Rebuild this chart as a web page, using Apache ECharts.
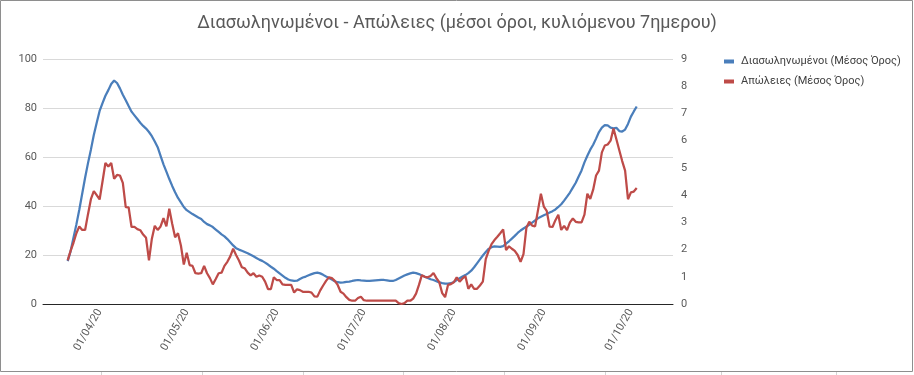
<!DOCTYPE html>
<html>
<head>
<meta charset="utf-8">
<script src="https://cdn.jsdelivr.net/npm/echarts@6/dist/echarts.min.js"></script>
<style>
html,body{margin:0;padding:0;background:#fff;}
#chart{width:914px;height:375px;}
</style>
</head>
<body>
<div id="chart"></div>
<script>
// ---- Data ----
const titleText = 'Διασωληνωμένοι - Απώλειες (μέσοι όροι, κυλιόμενου 7ημερου)';
const seriesNames = ['Διασωληνωμένοι (Μέσος Όρος)', 'Απώλειες (Μέσος Όρος)'];
const axisStart = [2020, 2, 13];   // first category (13/03/20)
const axisDays = 217;              // through 15/10/20
const dataStart = '21/03/20';      // first day with values

const intubated = [
17.5,21.5,27,32.5,38.5,45,51.5,57.5,63,69,
74,78.8,82,85,87.3,89.8,91.2,90.2,88,85.4,
83.2,80.8,78.5,77,75.5,74,72.7,71.6,70.2,68.5,
66.3,64,60.5,57,54,51,48.2,45.6,43.3,41.5,
39.6,38.3,37.5,36.7,36,35.3,34.7,33.5,32.6,32.1,
31.4,30.4,29.4,28.4,27.6,26.5,25.2,23.9,22.8,22.2,
21.7,21.2,20.7,20.1,19.5,18.8,18.1,17.6,16.9,16.1,
15.2,14.4,13.4,12.5,11.6,10.7,10,9.6,9.4,9.5,
10.2,10.8,11.2,11.7,12.2,12.6,12.8,12.5,11.9,11.2,
10.6,10,9.3,8.9,8.7,8.8,9,9.1,9.4,9.6,
9.8,9.6,9.5,9.4,9.4,9.5,9.6,9.7,9.8,9.8,
9.6,9.4,9.4,9.8,10.4,11,11.6,12.1,12.5,12.8,
12.6,12.2,11.6,11.1,10.6,10.1,9.8,9.3,8.8,8.5,
8.3,8.3,8.5,9,9.8,10.5,11.2,11.8,12.6,13.6,
15,16.6,18.2,19.8,21.2,22.5,23.2,23.5,23.4,23.3,
23.6,24.6,25.6,26.7,27.8,29,30,30.8,31.6,32.3,
33.2,34.1,35,35.6,36.2,36.7,37.3,37.9,38.6,39.6,
40.7,42.2,43.8,45.5,47.5,49.5,52,54.5,57.8,60.5,
63,65,67.5,70.2,72,73,72.9,72,71.7,71.9,
70.6,70.4,71.2,73.5,76.5,78.6,80.6
];

const deaths = [
1.6,1.95,2.25,2.6,2.85,2.72,2.72,3.3,3.85,4.15,
4.0,3.84,4.5,5.18,5.05,5.18,4.6,4.74,4.72,4.45,
3.56,3.55,2.83,2.83,2.75,2.71,2.55,2.43,1.6,2.4,
2.87,2.72,2.85,3.15,2.85,3.5,2.95,2.45,2.6,2.15,
1.45,1.88,1.43,1.4,1.13,1.12,1.13,1.4,1.13,0.95,
0.72,0.92,1.13,1.15,1.4,1.55,1.75,2.03,1.8,1.6,
1.35,1.31,1.15,1.05,1.13,1.0,1.05,1.0,0.82,0.55,
0.55,0.98,0.88,0.88,0.72,0.7,0.7,0.7,0.42,0.54,
0.51,0.45,0.45,0.45,0.42,0.28,0.27,0.5,0.68,0.85,
0.98,0.95,0.85,0.7,0.45,0.38,0.25,0.15,0.12,0.12,
0.22,0.27,0.14,0.12,0.12,0.12,0.12,0.12,0.12,0.12,
0.12,0.12,0.12,0.12,0.03,0.0,0.03,0.12,0.12,0.2,
0.38,0.7,1.06,1.0,0.98,1.03,1.14,0.95,0.8,0.4,
0.25,0.7,0.73,0.8,0.98,0.82,0.94,1.02,0.56,0.72,
0.56,0.56,0.68,0.82,1.65,1.95,2.2,2.35,2.47,2.6,
2.74,1.98,2.12,2.03,1.95,1.8,1.55,1.83,2.8,3.02,
2.88,2.85,3.45,4.05,3.58,3.42,2.84,2.83,3.08,3.28,
2.72,2.87,2.71,3.0,3.14,3.02,3.0,3.0,3.28,4.05,
3.86,4.2,4.72,4.9,5.57,5.82,5.86,6.0,6.45,6.05,
5.65,5.25,4.9,3.85,4.1,4.13,4.26
];

const leftTicks = {min: 0, max: 100, interval: 20};
const rightTicks = {min: 0, max: 9, interval: 1};

// ---- Build categories ----
function pad(n){ return (n < 10 ? '0' : '') + n; }
const categories = [];
for (let i = 0; i < axisDays; i++) {
  const d = new Date(Date.UTC(axisStart[0], axisStart[1], axisStart[2] + i));
  categories.push(pad(d.getUTCDate()) + '/' + pad(d.getUTCMonth() + 1) + '/' + String(d.getUTCFullYear()).slice(2));
}
const offset = categories.indexOf(dataStart);
function align(arr){
  const out = new Array(categories.length).fill(null);
  arr.forEach((v, i) => { out[offset + i] = v; });
  return out;
}

const font = 'Roboto, "Liberation Sans", sans-serif';
const chart = echarts.init(document.getElementById('chart'), null, {renderer: 'canvas'});

const cellLines = [101, 202, 303, 403, 504, 605, 721, 836];
const graphics = [{
  type: 'rect', silent: true, z: 100,
  shape: {x: 0.5, y: 0.5, width: 912, height: 371},
  style: {fill: 'none', stroke: '#8e8e8e', lineWidth: 1}
}];
cellLines.forEach(x => graphics.push({
  type: 'line', silent: true,
  shape: {x1: x + 0.5, y1: 372, x2: x + 0.5, y2: 375},
  style: {stroke: '#d4d4d4', lineWidth: 1}
}));

chart.setOption({
  animation: false,
  backgroundColor: '#ffffff',
  textStyle: {fontFamily: font},
  title: {
    text: titleText,
    left: 'center',
    top: 9,
    textStyle: {fontFamily: font, fontSize: 18, fontWeight: 'normal', color: '#595959'}
  },
  legend: {
    orient: 'vertical',
    left: 719,
    top: 51,
    itemWidth: 10,
    itemHeight: 4,
    itemGap: 9,
    icon: 'rect',
    textStyle: {fontFamily: font, fontSize: 11, color: '#404040', padding: [0, 0, 0, 2]},
    data: seriesNames
  },
  grid: {left: 43, right: 241, top: 59, bottom: 71, containLabel: false},
  xAxis: {
    type: 'category',
    data: categories,
    boundaryGap: true,
    axisLine: {lineStyle: {color: '#262626', width: 1}},
    axisTick: {show: false},
    axisLabel: {
      interval: (i, v) => v.slice(0, 2) === '01',
      rotate: 60,
      margin: 6,
      fontSize: 11,
      color: '#595959',
      fontFamily: font
    },
    splitLine: {show: false}
  },
  yAxis: [{
    type: 'value',
    min: leftTicks.min, max: leftTicks.max, interval: leftTicks.interval,
    axisLine: {show: false},
    axisTick: {show: false},
    axisLabel: {fontSize: 11, color: '#595959', margin: 6, fontFamily: font},
    splitLine: {lineStyle: {color: '#d9d9d9', width: 1}}
  }, {
    type: 'value',
    min: rightTicks.min, max: rightTicks.max, interval: rightTicks.interval,
    axisLine: {show: false},
    axisTick: {show: false},
    axisLabel: {fontSize: 11, color: '#595959', margin: 8, fontFamily: font},
    splitLine: {show: false}
  }],
  series: [{
    name: seriesNames[0],
    type: 'line',
    yAxisIndex: 0,
    data: align(intubated),
    showSymbol: false,
    connectNulls: false,
    lineStyle: {color: '#4a7ebb', width: 2.25},
    itemStyle: {color: '#4a7ebb'}
  }, {
    name: seriesNames[1],
    type: 'line',
    yAxisIndex: 1,
    data: align(deaths),
    showSymbol: false,
    connectNulls: false,
    lineStyle: {color: '#be4b48', width: 2.25},
    itemStyle: {color: '#be4b48'}
  }],
  graphic: graphics
});
</script>
</body>
</html>
